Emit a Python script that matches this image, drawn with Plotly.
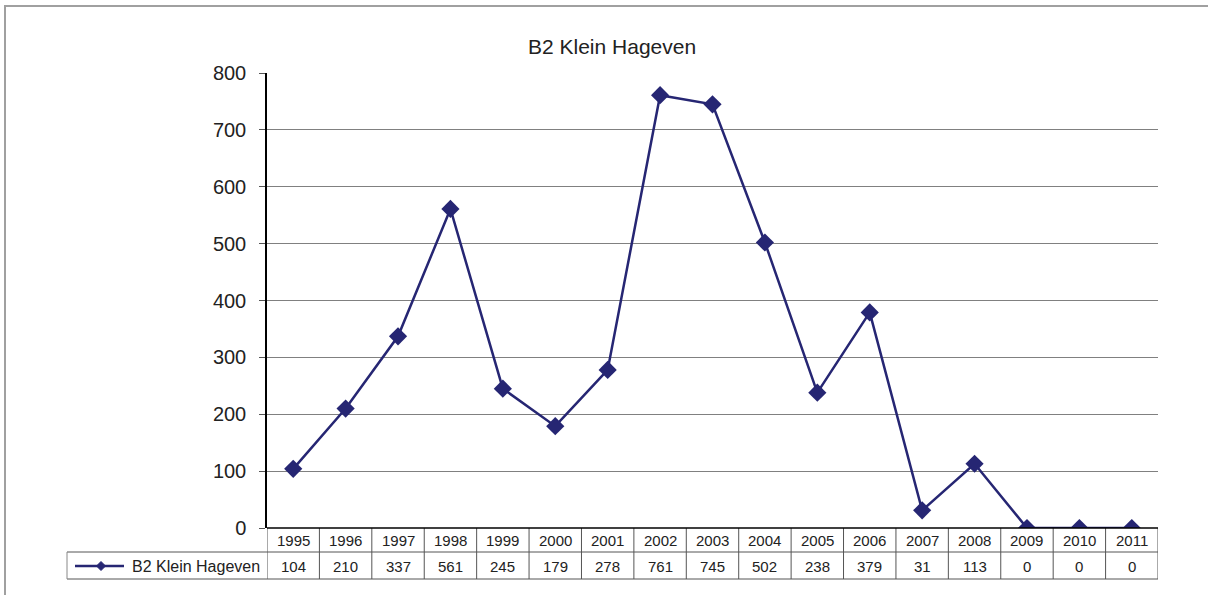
import plotly.graph_objects as go

years = ["1995", "1996", "1997", "1998", "1999", "2000", "2001", "2002", "2003",
         "2004", "2005", "2006", "2007", "2008", "2009", "2010", "2011"]
values = [104, 210, 337, 561, 245, 179, 278, 761, 745, 502, 238, 379, 31, 113, 0, 0, 0]
series_name = "B2 Klein Hageven"
y_ticks = [0, 100, 200, 300, 400, 500, 600, 700, 800]

W, H = 1208, 595
L, R, T, B = 267, 1158, 73, 528  # plot area in pixels
PW, PH = R - L, B - T

def px(x):
    return (x - L) / PW

def py(y):
    return (B - y) / PH

LINE = "#262673"
TXT = "#222222"
GRID = "#555555"
FONT = "Liberation Sans, Arial, sans-serif"

fig = go.Figure()
fig.add_trace(go.Scatter(
    x=list(range(len(years))), y=values, mode="lines+markers", name=series_name,
    line=dict(color=LINE, width=2.5),
    marker=dict(symbol="diamond", size=14, color=LINE),
    showlegend=False,
))

shapes = []
# outer frame
shapes.append(dict(type="rect", xref="paper", yref="paper",
                   x0=px(5), x1=px(1220), y0=py(6), y1=py(610),
                   line=dict(color="#a0a0a0", width=2), layer="below"))
# table vertical separators
n = len(years)
for i in range(n + 1):
    shapes.append(dict(type="line", xref="x", yref="paper",
                       x0=i - 0.5, x1=i - 0.5, y0=py(528), y1=py(579),
                       line=dict(color=GRID, width=1)))
# horizontal lines
shapes.append(dict(type="line", xref="paper", yref="paper",
                   x0=px(67), x1=px(1158), y0=py(552), y1=py(552),
                   line=dict(color=GRID, width=1)))
shapes.append(dict(type="line", xref="paper", yref="paper",
                   x0=px(67), x1=px(1158), y0=py(579), y1=py(579),
                   line=dict(color=GRID, width=1)))
shapes.append(dict(type="line", xref="paper", yref="paper",
                   x0=px(67), x1=px(67), y0=py(552), y1=py(579),
                   line=dict(color="#888888", width=1)))
# legend key (line + diamond) in table
shapes.append(dict(type="line", xref="paper", yref="paper",
                   x0=px(75), x1=px(124), y0=py(566), y1=py(566),
                   line=dict(color=LINE, width=2.5)))
d = 4.5
path = "M {},{} L {},{} L {},{} L {},{} Z".format(
    px(101 - d), py(566), px(101), py(566 - d), px(101 + d), py(566), px(101), py(566 + d))
shapes.append(dict(type="path", xref="paper", yref="paper", path=path,
                   fillcolor=LINE, line=dict(color=LINE, width=1)))
# bottom axis line at 0
shapes.append(dict(type="line", xref="paper", yref="paper", x0=0, x1=1, y0=0, y1=0,
                   line=dict(color="black", width=1.5)))

annotations = []
annotations.append(dict(text=series_name, xref="paper", yref="paper",
                        x=px(612), y=py(46), xanchor="center", yanchor="middle",
                        showarrow=False, font=dict(size=21, color=TXT, family=FONT)))
annotations.append(dict(text=series_name, xref="paper", yref="paper",
                        x=px(130), y=py(566), xanchor="left", yanchor="middle",
                        showarrow=False, font=dict(size=16, color=TXT, family=FONT)))
for i, (yr, v) in enumerate(zip(years, values)):
    annotations.append(dict(text=yr, xref="x", yref="paper", x=i, y=py(540),
                            xanchor="center", yanchor="middle", showarrow=False,
                            font=dict(size=15, color=TXT, family=FONT)))
    annotations.append(dict(text=str(v), xref="x", yref="paper", x=i, y=py(566),
                            xanchor="center", yanchor="middle", showarrow=False,
                            font=dict(size=15, color=TXT, family=FONT)))

fig.update_layout(
    width=W, height=H,
    margin=dict(l=L, r=W - R, t=T, b=H - B, pad=0),
    paper_bgcolor="white", plot_bgcolor="white",
    font=dict(family=FONT, color=TXT),
    xaxis=dict(range=[-0.5, n - 0.5], showticklabels=False, showgrid=False,
               zeroline=False, showline=False, ticks=""),
    yaxis=dict(range=[0, 800], tickvals=y_ticks, showgrid=True, gridcolor="#808080",
               gridwidth=1, zeroline=False, showline=True, linecolor="black",
               linewidth=1.5, ticks="outside", ticklen=6, tickcolor="#555555",
               tickfont=dict(size=20, color=TXT, family=FONT), ticklabelstandoff=9),
    showlegend=False,
    shapes=shapes, annotations=annotations,
)

fig.write_html("out.html", config={"displayModeBar": False},
               post_script="document.body.style.margin='0';document.body.style.overflow='hidden';")
